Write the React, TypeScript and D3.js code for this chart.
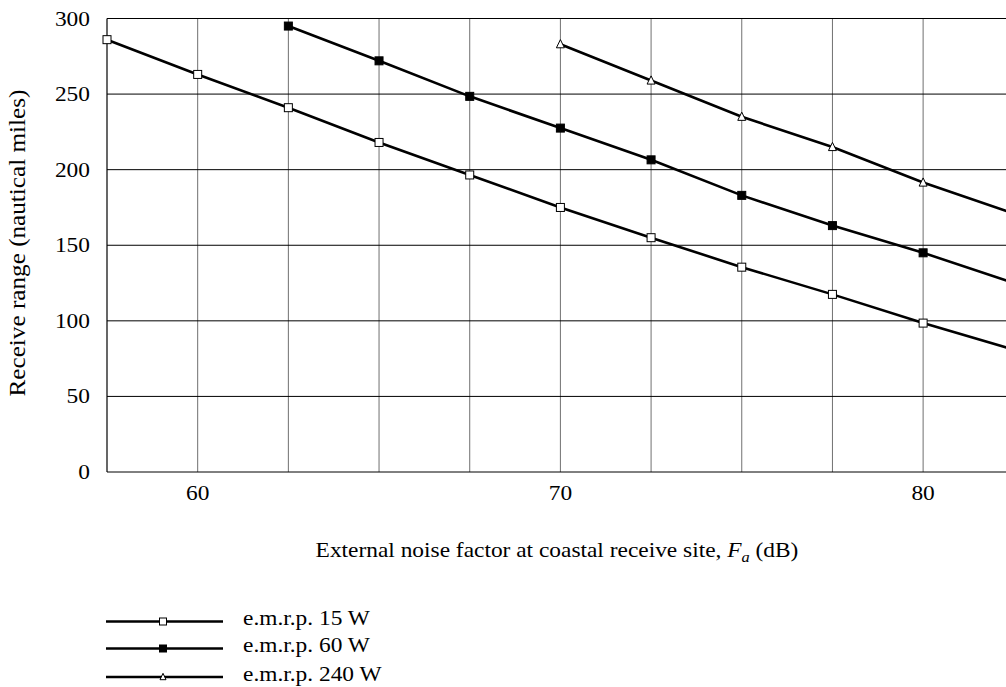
import React, { useRef, useEffect } from 'react';
import * as d3 from 'd3';

const noiseFactor = [57.5, 60, 62.5, 65, 67.5, 70, 72.5, 75, 77.5, 80, 82.5];
const range15W = [286, 263, 241, 218, 196.5, 175, 155, 135.5, 117.5, 98.5, 81];
const noise60W = [62.5, 65, 67.5, 70, 72.5, 75, 77.5, 80, 82.5];
const range60W = [295, 272, 248.5, 227.5, 206.5, 183, 163, 145, 125];
const noise240W = [70, 72.5, 75, 77.5, 80, 82.5];
const range240W = [283, 259, 235, 215, 191.5, 171];

const yTicks = [0, 50, 100, 150, 200, 250, 300];
const xGrid = [60, 62.5, 65, 67.5, 70, 72.5, 75, 77.5, 80, 82.5];
const xTickLabels = [60, 70, 80];

const seriesList = [
  { name: 'e.m.r.p. 15 W', marker: 'openSquare', x: noiseFactor, y: range15W },
  { name: 'e.m.r.p. 60 W', marker: 'filledSquare', x: noise60W, y: range60W },
  { name: 'e.m.r.p. 240 W', marker: 'triangle', x: noise240W, y: range240W },
];

const FONT = '"Liberation Serif", "Times New Roman", serif';
const FS = 20;
const STRETCH = 1.17; // glyphs in the reference look a bit wide

function drawMarker(g: any, type: string, cx: number, cy: number, s: number) {
  if (type === 'triangle') {
    const h = s * 0.9;
    g.append('path')
      .attr('d', `M${cx},${cy - h / 2 - 1}L${cx + s / 2},${cy + h / 2}L${cx - s / 2},${cy + h / 2}Z`)
      .attr('fill', 'white')
      .attr('stroke', 'black')
      .attr('stroke-width', 1);
  } else {
    g.append('rect')
      .attr('x', cx - s / 2)
      .attr('y', cy - s / 2)
      .attr('width', s)
      .attr('height', s)
      .attr('fill', type === 'filledSquare' ? 'black' : 'white')
      .attr('stroke', 'black')
      .attr('stroke-width', 1);
  }
}

// horizontal text, widened a little to match the source
function label(svg: any, x: number, y: number, anchor: string, txt: string) {
  return svg.append('text')
    .attr('transform', `translate(${x},${y}) scale(${STRETCH},1)`)
    .attr('text-anchor', anchor)
    .attr('font-family', FONT)
    .attr('font-size', FS)
    .text(txt);
}

export default function App() {
  const svgRef = useRef<SVGSVGElement>(null);
  const width = 1006;
  const height = 687;

  useEffect(() => {
    const svg = d3.select(svgRef.current);
    svg.selectAll('*').remove();

    const x = d3.scaleLinear().domain([57.5, 82.5]).range([107, 1013.8]);
    const y = d3.scaleLinear().domain([0, 300]).range([472, 18.5]);

    // vertical grid (gray)
    svg.append('g')
      .selectAll('line')
      .data(xGrid)
      .join('line')
      .attr('x1', d => x(d))
      .attr('x2', d => x(d))
      .attr('y1', y(300))
      .attr('y2', y(0))
      .attr('stroke', '#707070')
      .attr('stroke-width', 1);

    // horizontal grid (black)
    svg.append('g')
      .selectAll('line')
      .data(yTicks)
      .join('line')
      .attr('x1', x(57.5))
      .attr('x2', x(82.5))
      .attr('y1', d => y(d))
      .attr('y2', d => y(d))
      .attr('stroke', 'black')
      .attr('stroke-width', 1);

    // left axis
    svg.append('line')
      .attr('x1', x(57.5)).attr('x2', x(57.5))
      .attr('y1', y(300)).attr('y2', y(0))
      .attr('stroke', 'black').attr('stroke-width', 1.2);

    // y tick labels
    yTicks.forEach(d => label(svg, 90, y(d) + 7, 'end', String(d)));

    // x tick labels
    xTickLabels.forEach(d => label(svg, x(d), 500, 'middle', String(d)));

    // y axis title
    svg.append('text')
      .attr('transform', `translate(25,243) scale(${STRETCH},1.26) rotate(-90)`)
      .attr('text-anchor', 'middle')
      .attr('font-family', FONT)
      .attr('font-size', FS)
      .text('Receive range (nautical miles)');

    // x axis title
    const xt = svg.append('text')
      .attr('transform', `translate(557,557) scale(${STRETCH},1)`)
      .attr('text-anchor', 'middle')
      .attr('font-family', FONT)
      .attr('font-size', FS);
    xt.append('tspan').text('External noise factor at coastal receive site, ');
    xt.append('tspan').attr('font-style', 'italic').text('F');
    xt.append('tspan').attr('font-style', 'italic').attr('font-size', 14).attr('dy', 5).text('a');
    xt.append('tspan').attr('dy', -5).text(' (dB)');

    const line = d3.line<[number, number]>()
      .x(d => x(d[0]))
      .y(d => y(d[1]));

    seriesList.forEach(s => {
      const pts: [number, number][] = s.x.map((v, i) => [v, s.y[i]]);
      svg.append('path')
        .datum(pts)
        .attr('fill', 'none')
        .attr('stroke', 'black')
        .attr('stroke-width', 2.6)
        .attr('d', line);
      const mg = svg.append('g');
      pts.forEach(p => drawMarker(mg, s.marker, x(p[0]), y(p[1]), 8));
    });

    // legend
    const legendY = [621.5, 648.5, 677];
    seriesList.forEach((s, i) => {
      const ly = legendY[i];
      svg.append('line')
        .attr('x1', 106).attr('x2', 223)
        .attr('y1', ly).attr('y2', ly)
        .attr('stroke', 'black').attr('stroke-width', 2.6);
      drawMarker(svg.append('g'), s.marker, 163, ly, s.marker === 'triangle' ? 6 : 7);
      label(svg, 243, ly + 3.5, 'start', s.name);
    });
  }, []);

  return (
    <svg
      ref={svgRef}
      width={width}
      height={height}
      style={{ position: 'absolute', left: 0, top: 0, background: 'white', display: 'block' }}
    />
  );
}
